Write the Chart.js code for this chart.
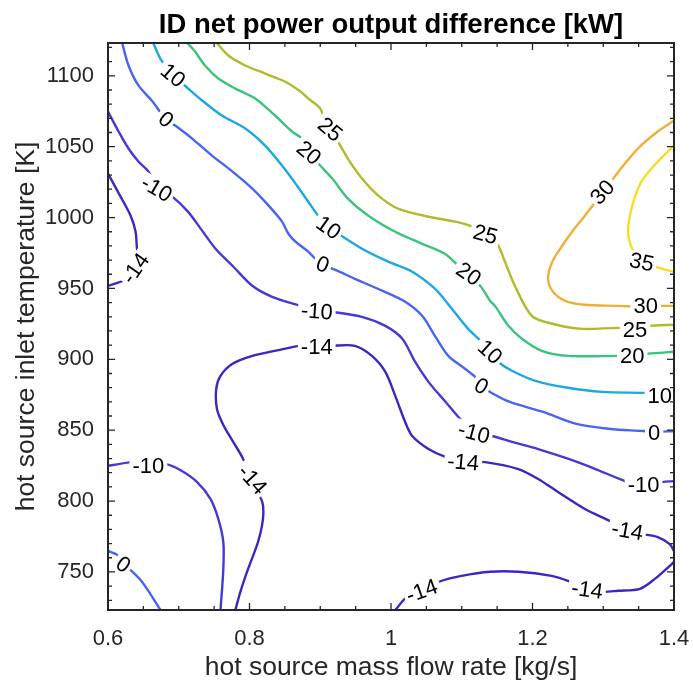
<!DOCTYPE html>
<html>
<head>
<meta charset="utf-8">
<script src="https://cdn.jsdelivr.net/npm/chart.js@4.4.1/dist/chart.umd.min.js"></script>
<style>
  html, body { margin: 0; padding: 0; background: #fff; }
</style>
</head>
<body>
<canvas id="myChart" width="693" height="692"></canvas>
<script>
// axis ticks
var xTicks = [0.6, 0.8, 1, 1.2, 1.4];
var yTicks = [750, 800, 850, 900, 950, 1000, 1050, 1100];
var xMinor = [0.65, 0.7, 0.75, 0.85, 0.9, 0.95, 1.05, 1.1, 1.15, 1.25, 1.3, 1.35];
var yMinor = [730, 740, 760, 770, 780, 790, 810, 820, 830, 840, 860, 870, 880, 890, 910, 920, 930, 940,
              960, 970, 980, 990, 1010, 1020, 1030, 1040, 1060, 1070, 1080, 1090, 1110, 1120];

// contour lines [mass flow kg/s, temperature K]
var line35 = [[1.400,1050.8],[1.377,1039.5],[1.354,1025.4],[1.341,1008.4],[1.335,990.0],[1.341,978.0],[1.354,968.9],[1.383,963.9],[1.400,961.8]];
var line30 = [[1.400,1068.4],[1.377,1060.7],[1.349,1048.7],[1.327,1035.9],[1.300,1018.3],[1.274,1001.3],[1.256,990.0],[1.242,980.1],[1.228,968.9],[1.222,956.8],[1.229,947.7],[1.246,941.3],[1.274,938.5],[1.321,937.7],[1.359,937.0],[1.383,937.7],[1.400,937.7]];
var line25 = [[0.754,1123.15],[0.770,1114.3],[0.794,1107.3],[0.822,1101.6],[0.850,1096.0],[0.872,1088.9],[0.883,1084.0],[0.900,1076.9],[0.911,1062.8],[0.925,1053.6],[0.939,1041.6],[0.959,1027.5],[0.982,1015.5],[1.010,1006.3],[1.053,1000.6],[1.091,997.1],[1.115,993.6],[1.132,988.6],[1.150,981.5],[1.161,968.9],[1.175,951.9],[1.199,930.7],[1.228,925.1],[1.270,921.5],[1.321,922.2],[1.345,921.5],[1.363,923.6],[1.400,924.4]];
var line20 = [[0.712,1123.15],[0.723,1117.2],[0.737,1107.3],[0.756,1098.1],[0.780,1091.0],[0.808,1084.0],[0.836,1072.0],[0.860,1060.7],[0.874,1055.7],[0.883,1046.5],[0.900,1036.7],[0.917,1027.5],[0.939,1013.4],[0.968,1001.3],[1.006,990.0],[1.044,981.5],[1.076,974.5],[1.095,966.0],[1.109,958.9],[1.126,951.9],[1.140,941.3],[1.147,937.7],[1.166,923.6],[1.185,914.5],[1.213,906.0],[1.250,902.4],[1.321,902.4],[1.341,902.4],[1.363,903.9],[1.400,905.3]];
var line10 = [[0.664,1123.15],[0.674,1112.2],[0.691,1100.2],[0.705,1094.6],[0.733,1082.6],[0.761,1072.0],[0.794,1062.8],[0.822,1050.8],[0.846,1036.7],[0.867,1022.6],[0.883,1011.2],[0.897,1001.3],[0.911,993.6],[0.921,990.0],[0.959,978.0],[0.996,968.9],[1.030,961.8],[1.062,949.8],[1.086,935.7],[1.109,921.5],[1.126,913.1],[1.137,905.5],[1.151,898.3],[1.171,891.9],[1.204,884.8],[1.250,879.9],[1.298,877.0],[1.363,876.3],[1.380,875.6],[1.400,877.0]];
var line0a = [[0.620,1123.15],[0.629,1107.3],[0.643,1093.2],[0.663,1081.9],[0.681,1069.8],[0.695,1064.9],[0.719,1055.7],[0.747,1043.7],[0.776,1032.4],[0.804,1020.4],[0.827,1008.4],[0.846,997.1],[0.855,988.6],[0.865,983.0],[0.883,975.9],[0.903,966.0],[0.917,963.9],[0.949,956.8],[0.988,948.3],[1.020,940.6],[1.044,930.7],[1.062,916.6],[1.081,902.4],[1.105,893.2],[1.119,887.6],[1.129,881.2],[1.140,877.0],[1.168,869.9],[1.215,862.9],[1.262,854.4],[1.310,850.8],[1.357,849.4],[1.370,848.7],[1.400,849.4]];
var line0b = [[0.600,764.8],[0.613,762.0],[0.620,756.0],[0.632,751.3],[0.646,744.3],[0.660,734.4],[0.674,723.15]];
var lineM10a = [[0.600,1074.8],[0.615,1060.7],[0.629,1048.7],[0.643,1039.5],[0.656,1033.2],[0.670,1021.8],[0.691,1014.8],[0.713,1004.2],[0.732,991.5],[0.752,978.0],[0.776,966.0],[0.804,951.9],[0.832,944.1],[0.872,937.7],[0.896,934.2],[0.917,933.5],[0.959,930.0],[0.992,923.6],[1.016,914.5],[1.034,898.3],[1.053,884.1],[1.077,870.0],[1.100,856.6],[1.116,848.7],[1.143,845.9],[1.171,841.7],[1.208,836.7],[1.251,829.7],[1.289,822.6],[1.331,814.1],[1.359,810.6],[1.383,813.4],[1.400,814.1]];
var lineM10b = [[0.600,824.9],[0.641,827.8],[0.657,826.5],[0.681,826.2],[0.702,821.9],[0.726,813.4],[0.745,801.4],[0.756,787.3],[0.763,771.1],[0.763,752.1],[0.759,723.15]];
var lineM14a = [[0.600,1031.0],[0.617,1015.5],[0.632,1001.3],[0.639,990.0],[0.641,978.0],[0.644,968.9],[0.637,962.5],[0.624,956.1],[0.600,951.9]];
var lineM14b = [[0.780,723.15],[0.787,735.8],[0.798,752.1],[0.812,771.1],[0.819,787.3],[0.818,799.4],[0.801,815.6],[0.791,829.7],[0.777,841.7],[0.763,853.7],[0.754,865.0],[0.753,879.2],[0.759,888.3],[0.776,896.8],[0.804,902.4],[0.843,906.7],[0.872,909.5],[0.894,908.5],[0.917,909.5],[0.949,909.5],[0.973,902.4],[0.992,891.1],[1.006,874.2],[1.020,855.8],[1.030,845.9],[1.053,836.7],[1.077,831.1],[1.105,827.5],[1.133,827.5],[1.180,822.6],[1.208,815.6],[1.236,806.4],[1.274,794.4],[1.312,785.2],[1.333,778.8],[1.355,776.7],[1.377,774.6],[1.394,769.6],[1.400,764.7]];
var lineM14c = [[1.006,723.15],[1.024,733.0],[1.046,736.5],[1.067,742.9],[1.100,747.2],[1.140,750.1],[1.180,750.1],[1.227,747.2],[1.250,743.7],[1.277,738.1],[1.298,736.0],[1.321,736.7],[1.352,738.1],[1.373,745.1],[1.394,754.3],[1.400,757.1]];

var contourLines = [
  [-14, lineM14a], [-14, lineM14b], [-14, lineM14c],
  [-10, lineM10a], [-10, lineM10b],
  [0, line0a], [0, line0b],
  [10, line10], [20, line20], [25, line25], [30, line30], [35, line35]
];

// contour labels [x, y, level, rotation deg]
var contourLabels = [
  [0.691,1100.5,10,40], [0.911,993.0,10,35], [1.139,905.3,10,42], [1.380,874.4,10,0],
  [0.883,1045.8,20,40], [1.109,960.4,20,35], [1.341,902.7,20,0],
  [0.913,1062.3,25,40], [1.133,988.1,25,15], [1.345,921.0,25,0],
  [1.300,1018.1,30,-48], [1.360,937.6,30,0],
  [1.354,968.6,35,12],
  [0.681,1069.4,0,40], [0.903,966.9,0,20], [1.127,881.1,0,30], [1.372,848.1,0,0], [0.621,755.4,0,35],
  [0.668,1020.4,-10,30], [0.895,933.8,-10,4], [1.117,848.1,-10,15], [1.357,811.4,-10,0], [0.657,824.8,-10,0],
  [0.640,964.4,-14,-55], [0.803,815.4,-14,48], [0.895,908.6,-14,0], [1.102,827.4,-14,5],
  [1.334,779.1,-14,10], [1.044,736.7,-14,-20], [1.277,737.4,-14,8]
];

var levelColors = {
  '-14': 'rgb(60,40,190)',
  '-10': 'rgb(70,56,214)',
  '0': 'rgb(72,100,245)',
  '10': 'rgb(28,168,224)',
  '20': 'rgb(60,195,125)',
  '25': 'rgb(178,186,44)',
  '30': 'rgb(240,176,56)',
  '35': 'rgb(248,222,35)'
};

var FONT = 'Liberation Sans, Arial, Helvetica, sans-serif';
var AXIS = '#262626';

// label boxes in pixels
function labelBoxes(chart) {
  var ctx = chart.ctx, xs = chart.scales.x, ys = chart.scales.y;
  ctx.save();
  ctx.font = '22px ' + FONT;
  var out = contourLabels.map(function (l) {
    var w = ctx.measureText(String(l[2])).width;
    return { cx: xs.getPixelForValue(l[0]), cy: ys.getPixelForValue(l[1]),
             a: l[3] * Math.PI / 180, hw: w / 2 + 3, hh: 10, text: String(l[2]) };
  });
  ctx.restore();
  return out;
}

var contourLabelPlugin = {
  id: 'contourLabels',
  beforeDatasetsDraw: function (chart) {
    var ctx = chart.ctx;
    var boxes = labelBoxes(chart);
    ctx.save();
    ctx.beginPath();
    ctx.rect(0, 0, chart.width, chart.height);
    boxes.forEach(function (b) {
      var c = Math.cos(b.a), s = Math.sin(b.a);
      var pts = [[-b.hw, -b.hh], [b.hw, -b.hh], [b.hw, b.hh], [-b.hw, b.hh]];
      pts.forEach(function (p, i) {
        var px = b.cx + p[0] * c - p[1] * s, py = b.cy + p[0] * s + p[1] * c;
        if (i === 0) ctx.moveTo(px, py); else ctx.lineTo(px, py);
      });
      ctx.closePath();
    });
    ctx.clip('evenodd');
  },
  afterDatasetsDraw: function (chart) {
    var ctx = chart.ctx;
    ctx.restore();
    var boxes = labelBoxes(chart);
    ctx.save();
    ctx.font = '22px ' + FONT;
    ctx.fillStyle = '#000';
    ctx.textAlign = 'center';
    ctx.textBaseline = 'middle';
    boxes.forEach(function (b) {
      ctx.save();
      ctx.translate(b.cx, b.cy + 1);
      ctx.rotate(b.a);
      ctx.fillText(b.text, 0, 0);
      ctx.restore();
    });
    ctx.restore();
  }
};

var framePlugin = {
  id: 'frame',
  afterDraw: function (chart) {
    var ctx = chart.ctx, a = chart.chartArea, xs = chart.scales.x, ys = chart.scales.y;
    ctx.save();
    ctx.strokeStyle = AXIS;
    ctx.lineWidth = 1.3;
    function tickX(v, len) {
      var px = xs.getPixelForValue(v);
      ctx.moveTo(px, a.bottom); ctx.lineTo(px, a.bottom - len);
      ctx.moveTo(px, a.top); ctx.lineTo(px, a.top + len);
    }
    function tickY(v, len) {
      var py = ys.getPixelForValue(v);
      ctx.moveTo(a.left, py); ctx.lineTo(a.left + len, py);
      ctx.moveTo(a.right, py); ctx.lineTo(a.right - len, py);
    }
    ctx.beginPath();
    xTicks.forEach(function (v) { tickX(v, 7); });
    xMinor.forEach(function (v) { tickX(v, 4); });
    yTicks.forEach(function (v) { tickY(v, 7); });
    yMinor.forEach(function (v) { tickY(v, 4); });
    ctx.stroke();
    ctx.lineWidth = 2;
    ctx.strokeRect(a.left, a.top, a.right - a.left, a.bottom - a.top);
    // title
    ctx.fillStyle = '#000';
    ctx.font = 'bold 27.5px ' + FONT;
    ctx.textAlign = 'center';
    ctx.textBaseline = 'alphabetic';
    ctx.fillText('ID net power output difference [kW]', (a.left + a.right) / 2, 33);
    ctx.restore();
  }
};

var datasets = contourLines.map(function (c) {
  return {
    label: String(c[0]),
    data: c[1].map(function (p) { return { x: p[0], y: p[1] }; }),
    borderColor: levelColors[String(c[0])],
    borderWidth: 2.4,
    showLine: true,
    fill: false,
    pointRadius: 0,
    tension: 0.3
  };
});

var ctx = document.getElementById('myChart');
var myChart = new Chart(ctx, {
  type: 'scatter',
  data: { datasets: datasets },
  options: {
    responsive: false,
    animation: false,
    layout: { padding: { left: 0, right: 19, top: 43, bottom: 0 } },
    plugins: { legend: { display: false }, tooltip: { enabled: false }, title: { display: false } },
    scales: {
      x: {
        type: 'linear', min: 0.6, max: 1.4,
        afterBuildTicks: function (s) { s.ticks = xTicks.map(function (v) { return { value: v }; }); },
        afterFit: function (s) { s.height = 82; s.paddingLeft = 0; s.paddingRight = 0; },
        grid: { display: false, drawTicks: false },
        border: { display: false },
        ticks: {
          padding: 16, color: AXIS, font: { family: FONT, size: 22 }, maxRotation: 0,
          callback: function (v) { return String(Math.round(v * 10) / 10); }
        },
        title: { display: true, text: 'hot source mass flow rate [kg/s]', color: AXIS,
                 font: { family: FONT, size: 26.5 }, padding: { top: 0, bottom: 8 } }
      },
      y: {
        type: 'linear', min: 723.15, max: 1123.15,
        afterBuildTicks: function (s) { s.ticks = yTicks.map(function (v) { return { value: v }; }); },
        afterFit: function (s) { s.width = 108; s.paddingTop = 0; s.paddingBottom = 0; },
        grid: { display: false, drawTicks: false },
        border: { display: false },
        ticks: {
          padding: 14, color: AXIS, font: { family: FONT, size: 22 },
          callback: function (v) { return String(v); }
        },
        title: { display: true, text: 'hot source inlet temperature [K]', color: AXIS,
                 font: { family: FONT, size: 26.5 }, padding: { top: 11, bottom: 0 } }
      }
    }
  },
  plugins: [contourLabelPlugin, framePlugin]
});
</script>
</body>
</html>
